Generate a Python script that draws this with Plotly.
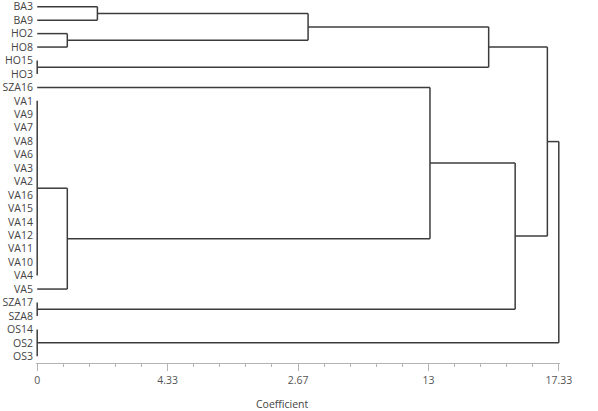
import plotly.graph_objects as go

# leaf order, top to bottom
leaves = ["BA3", "BA9", "HO2", "HO8", "HO15", "HO3", "SZA16",
          "VA1", "VA9", "VA7", "VA8", "VA6", "VA3", "VA2", "VA16", "VA15",
          "VA14", "VA12", "VA11", "VA10", "VA4", "VA5",
          "SZA17", "SZA8", "OS14", "OS2", "OS3"]

# clustering steps: name, members, joining coefficient
merge_names = ["c1", "c2", "c3", "c4", "c5", "c6", "c7", "c8", "c9", "c10", "c11", "c12", "c13"]
merge_children = [
    ["BA3", "BA9"],
    ["HO2", "HO8"],
    ["HO15", "HO3"],
    ["c1", "c2"],
    ["c4", "c3"],
    ["VA1", "VA9", "VA7", "VA8", "VA6", "VA3", "VA2", "VA16", "VA15",
     "VA14", "VA12", "VA11", "VA10", "VA4"],
    ["c6", "VA5"],
    ["SZA16", "c7"],
    ["SZA17", "SZA8"],
    ["c8", "c9"],
    ["c5", "c10"],
    ["OS14", "OS2", "OS3"],
    ["c11", "c12"],
]
merge_heights = [2.0, 1.0, 0.0, 9.0, 15.0, 0.0, 1.0, 13.05, 0.0, 15.88, 16.95, 0.0, 17.33]

tick_vals = [0, 4.3333, 8.6667, 13, 17.3333]
tick_text = ["0", "4.33", "2.67", "13", "17.33"]

# node positions
pos_y = {name: i for i, name in enumerate(leaves)}
pos_x = {name: 0.0 for name in leaves}

xs, ys = [], []
for name, kids, h in zip(merge_names, merge_children, merge_heights):
    kid_y = [pos_y[k] for k in kids]
    # vertical connector
    xs += [h, h, None]
    ys += [min(kid_y), max(kid_y), None]
    # horizontal arms
    for k in kids:
        xs += [pos_x[k], h, None]
        ys += [pos_y[k], pos_y[k], None]
    pos_y[name] = (min(kid_y) + max(kid_y)) / 2
    pos_x[name] = h

fig = go.Figure()
fig.add_trace(go.Scatter(
    x=xs, y=ys, mode="lines",
    line=dict(color="#3c3c3c", width=1.5),
    hoverinfo="skip", showlegend=False
))

fig.update_layout(
    width=598, height=411,
    margin=dict(l=36, r=38, t=0, b=48),
    paper_bgcolor="white", plot_bgcolor="white",
    font=dict(family="Open Sans, Noto Sans, sans-serif", size=10.5, color="#444"),
    xaxis=dict(
        range=[-0.04, 17.37], automargin=False,
        tickmode="array", tickvals=tick_vals, ticktext=tick_text,
        ticks="outside", ticklen=7, tickcolor="#b4b4b4", tickwidth=1,
        minor=dict(tickmode="linear", tick0=0, dtick=17.3333 / 20,
                   ticks="outside", ticklen=3, tickcolor="#b4b4b4"),
        showline=True, linecolor="#b4b4b4", linewidth=1,
        showgrid=False, zeroline=False,
        tickfont=dict(size=10.5, color="#555"),
        ticklabeloverflow="allow",
    ),
    yaxis=dict(
        range=[26.5, -0.5], automargin=False,
        tickmode="array", tickvals=list(range(len(leaves))), ticktext=leaves,
        ticks="", showline=False, showgrid=False, zeroline=False,
        tickfont=dict(size=10.5, color="#444"),
        ticklabeloverflow="allow", ticklabelstandoff=2,
    ),
    annotations=[dict(
        text="Coefficient", xref="paper", yref="paper", x=0.47, y=-0.112,
        xanchor="center", yanchor="middle", showarrow=False,
        font=dict(size=10.5, color="#444"),
    )],
)

fig.write_html("out.html", config={"displayModeBar": False},
               post_script="document.body.style.margin='0px';")
